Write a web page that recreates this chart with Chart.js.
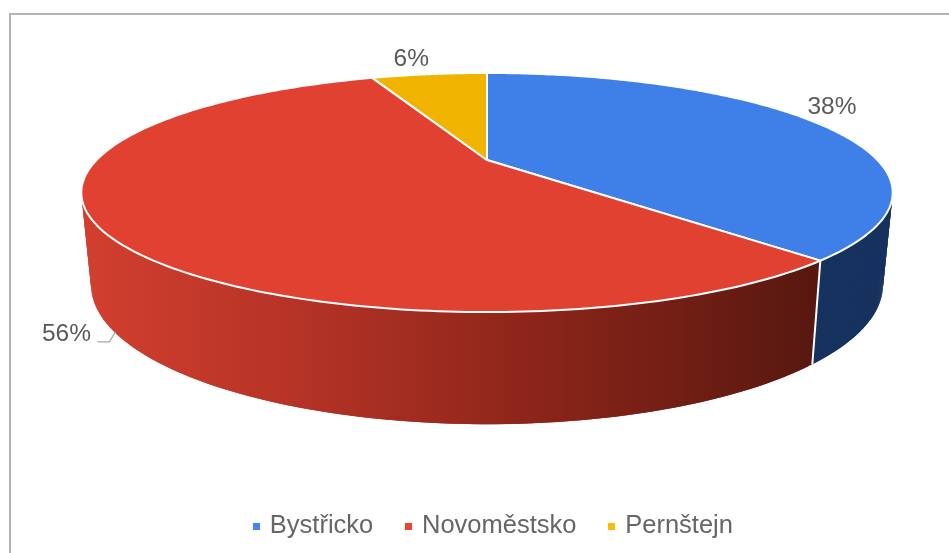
<!DOCTYPE html>
<html><head><meta charset="utf-8">
<style>
html,body{margin:0;padding:0;background:#fff;overflow:hidden}
#wrap{position:relative;width:949px;height:553px}
#frame{position:absolute;left:9px;top:13px;right:0;bottom:0;border-left:2px solid #b3b3b3;border-top:2px solid #b3b3b3}
canvas{position:absolute;left:0;top:0;filter:blur(0.55px)}
</style>
<script src="https://cdn.jsdelivr.net/npm/chart.js@4"></script>
</head><body>
<div id="wrap"><div id="frame"></div><canvas id="c" width="949" height="553"></canvas></div>
<script>
const categories = ['Bystřicko', 'Novoměstsko', 'Pernštejn'];
const shares = [38, 56, 6];
const legendColors = ['#4285F4', '#EA4335', '#FBBC04'];
const faceColors = ['#3E7FE8', '#E04131', '#F0B400'];

// perspective of the disc: top rim and bottom rim of the cylinder
const K = 0.272, CX = 487;
const TOP = {a: 390.4, b: 110.7, y0: 160};
const BOT = {a: 381, b: 129, y0: 247};
function proj(ring, t) {
  const X = Math.sin(t), Y = -Math.cos(t), d = 1 - K * Y;
  return {x: CX + ring.a * X / d, y: ring.y0 + ring.b * Y / d};
}
// label anchors: ring used and offset from the projected mid-angle point
const labelAnchors = [
  {ring: TOP, dx: 15, dy: -16},
  {ring: BOT, dx: -44, dy: 6},
  {ring: TOP, dx: -18, dy: -15}
];

function swatch(color) {
  const s = document.createElement('canvas');
  s.width = 7; s.height = 7;
  const g = s.getContext('2d');
  g.fillStyle = color; g.fillRect(0, 0, 7, 7);
  return s;
}

const pie3d = {
  id: 'pie3d',
  beforeDatasetsDraw(chart) {
    const ctx = chart.ctx, arcs = chart.getDatasetMeta(0).data;
    const ranges = arcs.map(el => {
      const p = el.getProps(['startAngle', 'endAngle'], true);
      return [p.startAngle + Math.PI / 2, p.endAngle + Math.PI / 2];
    });
    // side walls
    const redGrad = ctx.createLinearGradient(82, 0, 820, 0);
    redGrad.addColorStop(0, '#D23F2F');
    redGrad.addColorStop(0.3, '#B43326');
    redGrad.addColorStop(0.6, '#8E251A');
    redGrad.addColorStop(0.85, '#6C1D13');
    redGrad.addColorStop(1, '#56170F');
    const wallFill = [ '#16325E', redGrad, '#8A6800' ];
    [2, 0, 1].forEach(i => {
      const [s, e] = ranges[i], n = 240;
      ctx.fillStyle = wallFill[i];
      for (let j = 0; j < n; j++) {
        const t0 = s + (e - s) * j / n, t1 = s + (e - s) * Math.min(j + 2, n) / n;
        const a = proj(TOP, t0), b = proj(TOP, t1), c = proj(BOT, t1), d = proj(BOT, t0);
        ctx.beginPath();
        ctx.moveTo(a.x, a.y); ctx.lineTo(b.x, b.y); ctx.lineTo(c.x, c.y); ctx.lineTo(d.x, d.y);
        ctx.closePath(); ctx.fill();
      }
    });
    // white seam on the front wall between visible slices
    const seamTop = proj(TOP, ranges[0][1]), seamBot = proj(BOT, ranges[0][1]);
    ctx.strokeStyle = '#fff'; ctx.lineWidth = 2;
    ctx.beginPath(); ctx.moveTo(seamTop.x, seamTop.y); ctx.lineTo(seamBot.x, seamBot.y); ctx.stroke();
    // top faces
    ranges.forEach(([s, e], i) => {
      ctx.beginPath();
      ctx.moveTo(CX, TOP.y0);
      const n = 200;
      for (let j = 0; j <= n; j++) {
        const p = proj(TOP, s + (e - s) * j / n);
        ctx.lineTo(p.x, p.y);
      }
      ctx.closePath();
      ctx.fillStyle = faceColors[i];
      ctx.fill();
      ctx.strokeStyle = '#fff'; ctx.lineWidth = 2; ctx.lineJoin = 'round';
      ctx.stroke();
    });
    // labels
    ctx.font = '24.5px "Liberation Sans", Arial, sans-serif';
    ctx.fillStyle = '#5a5a5a';
    ctx.textAlign = 'center'; ctx.textBaseline = 'middle';
    ranges.forEach(([s, e], i) => {
      const an = labelAnchors[i], p = proj(an.ring, (s + e) / 2);
      const lx = p.x + an.dx, ly = p.y + an.dy;
      ctx.fillText(shares[i] + '%', lx, ly);
      if (an.ring === BOT) {
        ctx.strokeStyle = '#a8a8a8'; ctx.lineWidth = 1.3;
        ctx.beginPath();
        ctx.moveTo(lx + 31, ly + 8); ctx.lineTo(lx + 43, ly + 8); ctx.lineTo(p.x + 5, p.y + 4);
        ctx.stroke();
      }
    });
    return false;
  }
};

new Chart(document.getElementById('c'), {
  type: 'pie',
  data: { labels: categories, datasets: [{ data: shares, backgroundColor: legendColors }] },
  plugins: [pie3d],
  options: {
    responsive: false,
    animation: false,
    layout: { padding: { left: 40, bottom: 4 } },
    plugins: {
      tooltip: { enabled: false },
      legend: {
        position: 'bottom',
        labels: {
          usePointStyle: true, boxWidth: 1, boxHeight: 1, padding: 35,
          color: '#666666',
          font: { family: '"Liberation Sans", Arial, sans-serif', size: 25.5 },
          generateLabels(chart) {
            return categories.map((c, i) => ({
              text: c, index: i, datasetIndex: 0, hidden: false, lineWidth: 0,
              fillStyle: legendColors[i], strokeStyle: legendColors[i],
              fontColor: '#666666',
              pointStyle: swatch(legendColors[i])
            }));
          }
        }
      }
    }
  }
});
</script>
</body></html>
